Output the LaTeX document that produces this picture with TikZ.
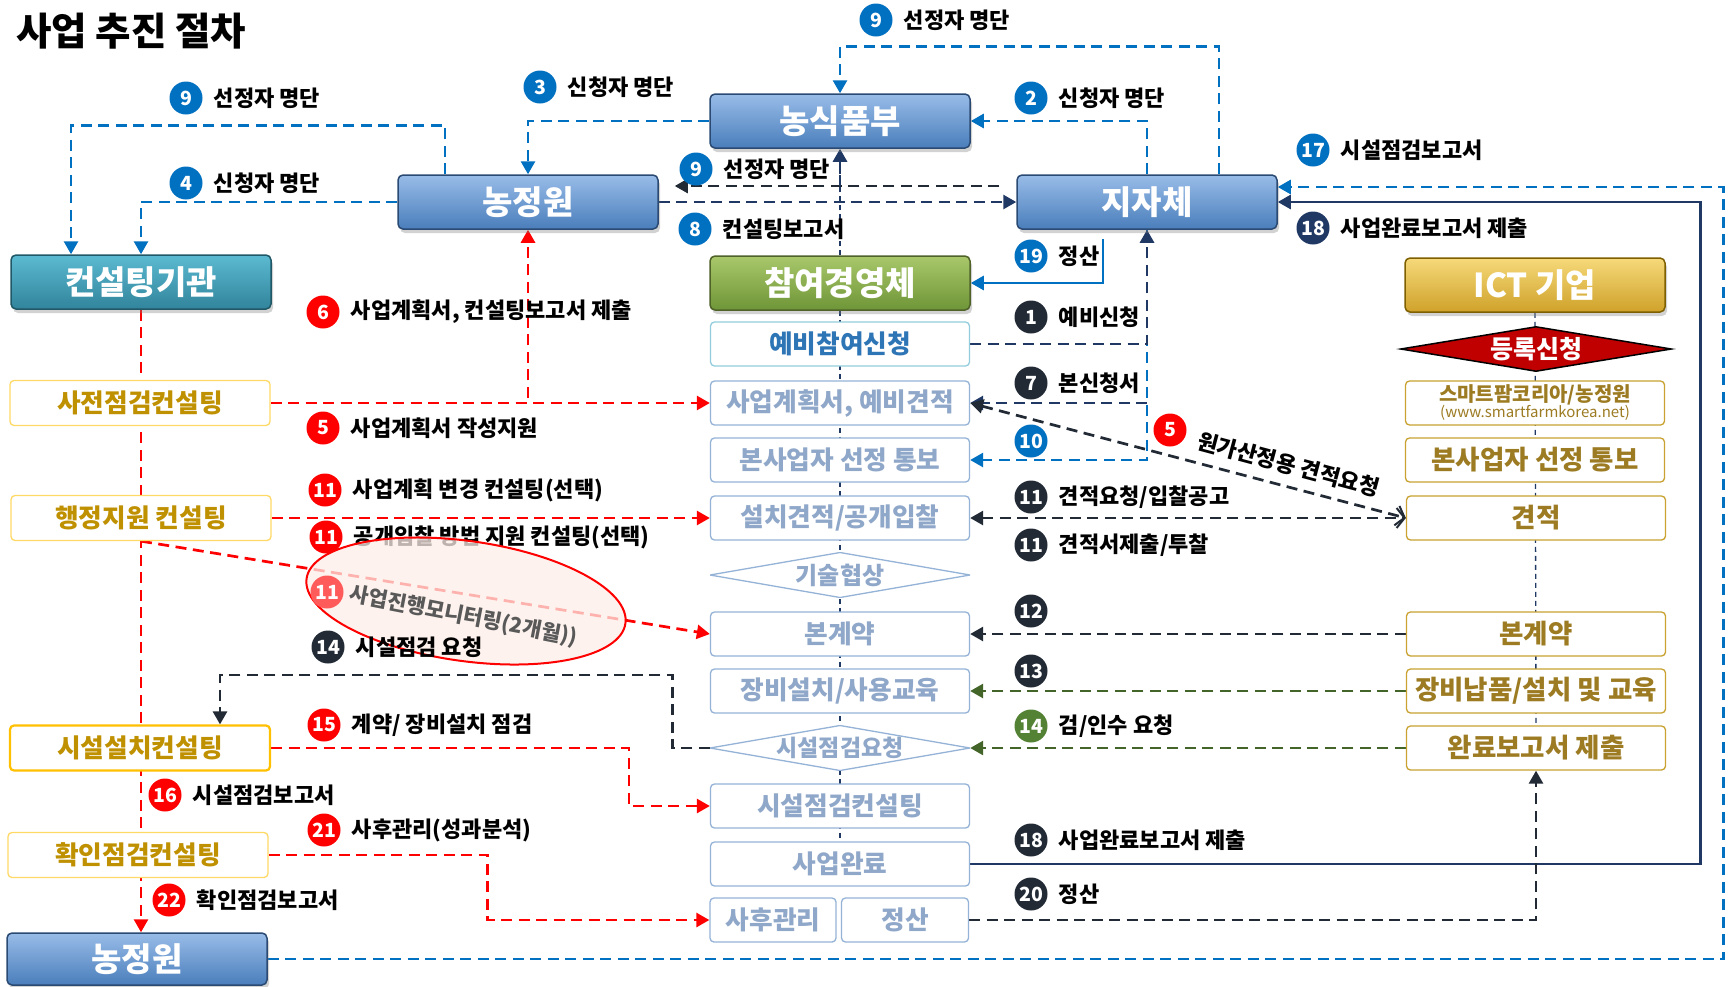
\documentclass[tikz,border=0pt]{standalone}
\usepackage{fontspec}
\setmainfont{Noto Sans CJK KR}
\usetikzlibrary{positioning,arrows.meta,shapes.geometric,shadows}

\definecolor{cblue}{HTML}{0070C0}
\definecolor{cnavy}{HTML}{222A35}
\definecolor{dnavy}{HTML}{1F3864}
\definecolor{cred}{HTML}{FF0000}
\definecolor{lred}{HTML}{FF5B5B}
\definecolor{dgreen}{HTML}{44652A}
\definecolor{cgreen}{HTML}{548235}
\definecolor{hbtop}{HTML}{98BCE8}
\definecolor{hbbot}{HTML}{4A7EBB}
\definecolor{hbline}{HTML}{2B4A73}
\definecolor{httop}{HTML}{5BBAD1}
\definecolor{htbot}{HTML}{31849B}
\definecolor{htline}{HTML}{205867}
\definecolor{hgtop}{HTML}{A9C86B}
\definecolor{hgbot}{HTML}{6E9537}
\definecolor{hgline}{HTML}{4F6228}
\definecolor{hytop}{HTML}{F6D97A}
\definecolor{hybot}{HTML}{CFA22A}
\definecolor{hyline}{HTML}{7F6000}
\definecolor{boxline}{HTML}{95B3D7}
\definecolor{boxtext}{HTML}{8FA7C9}
\definecolor{ybline}{HTML}{93CDDD}
\definecolor{ybtext}{HTML}{2E75B6}
\definecolor{goldline}{HTML}{FFD966}
\definecolor{goldbold}{HTML}{FFC000}
\definecolor{goldtext}{HTML}{BF9000}
\definecolor{ictline}{HTML}{C9A232}
\definecolor{icttext}{HTML}{9C7B22}
\definecolor{regred}{HTML}{C00000}
\definecolor{ellfill}{HTML}{FDEEE8}
\definecolor{monitext}{HTML}{595959}

\pgfdeclarelayer{back}
\pgfdeclarelayer{links}
\pgfsetlayers{back,links,main}

\tikzset{
  fs/.style={font=\fontsize{#1}{#1}\selectfont\bfseries},
  head/.style={rectangle, rounded corners=5pt, minimum width=260pt,
    minimum height=54pt, line width=1.5pt, text=white, fs=33,
    drop shadow={opacity=.35, shadow xshift=2pt, shadow yshift=-4pt}},
  headblue/.style={head, draw=hbline, top color=hbtop, bottom color=hbbot},
  headteal/.style={head, draw=htline, top color=httop, bottom color=htbot},
  headgreen/.style={head, draw=hgline, top color=hgtop, bottom color=hgbot},
  headgold/.style={head, draw=hyline, top color=hytop, bottom color=hybot},
  midbox/.style={rectangle, rounded corners=4pt, draw=boxline, line width=1.3pt,
    fill=white, minimum width=259pt, minimum height=44pt, text=boxtext, fs=25.7},
  middia/.style={rectangle, inner sep=0pt, minimum width=260pt, minimum height=45pt,
    text=boxtext, fs=24,
    path picture={\draw[draw=boxline, line width=1.3pt, fill=white]
      (path picture bounding box.west) -- (path picture bounding box.north)
      -- (path picture bounding box.east) -- (path picture bounding box.south) -- cycle;}},
  goldbox/.style={rectangle, rounded corners=4pt, draw=goldline, line width=1.3pt,
    fill=white, minimum width=260pt, minimum height=45pt, text=goldtext, fs=25.7},
  ictbox/.style={rectangle, rounded corners=4pt, draw=ictline, line width=1.3pt,
    fill=white, minimum width=259pt, minimum height=44pt, text=icttext, fs=26.5},
  regdia/.style={diamond, aspect=5.8, inner sep=0pt, draw=black, line width=1.5pt,
    fill=regred, minimum width=271pt, minimum height=45pt, text=white, fs=25},
  num/.style={circle, fill=#1, minimum size=33pt, inner sep=0pt, text=white, fs=19.5},
  lbl/.style={fs=22, inner sep=1pt},
  link/.style={line width=2.7pt, dash pattern=on 11pt off 6.5pt},
  bluedash/.style={link, draw=cblue},
  navydash/.style={link, draw=dnavy},
  blackdash/.style={link, draw=cnavy},
  greendash/.style={link, draw=dgreen},
  reddash/.style={link, draw=cred},
  blueline/.style={line width=2.7pt, draw=cblue},
  navyline/.style={line width=2.7pt, draw=dnavy},
  thinlink/.style={line width=1.3pt, draw=dnavy, dash pattern=on 5pt off 4pt},
  barb/.style={arrows={Triangle[length=13pt,width=14pt]-Straight Barb[length=8pt,width=20pt,line width=2pt]}}
}

\begin{document}
\begin{tikzpicture}[x=1pt, y=-1pt, >={Triangle[length=13pt,width=14pt]}]
\useasboundingbox (0,0) rectangle (1728,986);
\begin{pgfonlayer}{back}
  \fill[white] (0,0) rectangle (1728,986);
\end{pgfonlayer}

\node[fs=38.5, anchor=west, inner sep=0pt] (title) at (16,31) {사업 추진 절차};

% agencies
\node[headblue] (nsp) at (840,121) {농식품부};
\node[headblue] (ngw) at (528,202) {농정원};
\node[headblue] (jjc) at (1147,202) {지자체};
\node[headteal] (kst) at (141,282) {컨설팅기관};
\node[headgreen] (cyg) at (840,283) {참여경영체};
\node[headgold] (ict) at (1535,285) {ICT 기업};
\node[headblue, minimum height=52pt] (ngwb) at (137,959) {농정원};

% participant steps
\node[midbox, draw=ybline, text=ybtext] (ybi) at (840,344) {예비참여신청};
\node[midbox] (sgh) at (840,403) {사업계획서, 예비견적};
\node[midbox] (bsa) at (840,460) {본사업자 선정 통보};
\node[midbox] (sgj) at (840,518) {설치견적/공개입찰};
\node[middia] (gsh) at (840,575) {기술협상};
\node[midbox] (bgy) at (840,634) {본계약};
\node[midbox] (jbs) at (840,691) {장비설치/사용교육};
\node[middia, fs=23] (sjy) at (840,748) {시설점검요청};
\node[midbox] (sjc) at (840,806) {시설점검컨설팅};
\node[midbox] (syw) at (840,864) {사업완료};
\node[midbox, minimum width=126pt] (shg) at (773,920) {사후관리};
\node[midbox, minimum width=127pt] (js) at (905,920) {정산};

% consulting steps
\node[goldbox] (sjj) at (140,403) {사전점검컨설팅};
\node[goldbox] (hjj) at (141,518) {행정지원 컨설팅};
\node[goldbox, draw=goldbold, line width=2.2pt] (ssc) at (140,748) {시설설치컨설팅};
\node[goldbox] (hjc) at (138,855) {확인점검컨설팅};

% ICT steps
\node[regdia] (drg) at (1536,349) {등록신청};
\node[ictbox, align=center, inner sep=0pt, font=\fontsize{20}{16}\selectfont\bfseries] (smk) at (1535,403)
  {스마트팜코리아/농정원\\{\fontsize{15}{16}\selectfont\mdseries (www.smartfarmkorea.net)}};
\node[ictbox] (ibs) at (1535,460) {본사업자 선정 통보};
\node[ictbox] (ig) at (1536,518) {견적};
\node[ictbox] (ib) at (1536,634) {본계약};
\node[ictbox] (ij) at (1536,691) {장비납품/설치 및 교육};
\node[ictbox] (iw) at (1536,748) {완료보고서 제출};

\coordinate (j9) at ([yshift=16]jjc.west);

\begin{pgfonlayer}{links}
% column connectors
\draw[thinlink] (cyg.north) -- (nsp.south);
\draw[thinlink] (cyg.south) -- (syw.south);
\draw[thinlink] (ict.south) -- (iw.north);
% lists
\draw[bluedash,->] ([xshift=-83]ngw.north) -- ++(0,-49) -| ([xshift=-70]kst.north);
\draw[bluedash,->] (ngw.west) -| (kst.north);
\draw[bluedash,->] (nsp.west) -| (ngw.north);
\draw[bluedash,->] (jjc.north) |- (nsp.east);
\draw[bluedash,->] ([xshift=72]jjc.north) -- ++(0,-128) -| (nsp.north);
\draw[bluedash,->] (jjc.south) |- (bsa.east);
\draw[bluedash,->] (ngwb.east) -- ++(1456,0) |- ([yshift=15]jjc.east);
\draw[navydash,->] (ngw.east) -- (jjc.west);
\draw[blackdash,->, shorten <=17pt, shorten >=16pt] (j9) -- (j9 -| ngw.east);
\draw[navydash,->] (j9 -| nsp.south) -- (nsp.south);
\draw[navydash,->] (ybi.east) -| (jjc.south);
\draw[navydash,->] (sgh.east -| jjc.south) -- (sgh.east);
\draw[blueline,->] ([xshift=-44,yshift=-9]jjc.south) |- (cyg.east);
\draw[navyline,->] (syw.east) -- ++(730,0) |- (jjc.east);
% quotes and contracts
\draw[blackdash,barb] (sgh.east) -- (ig.west);
\draw[blackdash,barb] (sgj.east) -- (ig.west);
\draw[blackdash,->] (ib.west) -- (bgy.east);
\draw[greendash,->] (ij.west) -- (jbs.east);
\draw[greendash,->] (iw.west) -- (sjy.east);
\draw[blackdash,->] (sjy.west) -- ++(-37,0) -- ++(0,-73) -| ([xshift=80]ssc.north);
\draw[blackdash,->] (js.east) -| (iw.south);
% consulting
\draw[reddash,->] (sjj.east) -| (ngw.south);
\draw[reddash,->] (sjj.east) -- (sgh.west);
\draw[reddash,->] (hjj.east) -- (sgj.west);
\draw[reddash,->] (hjj.south) -- (bgy.west);
\draw[reddash,->] (ssc.east) -| ([xshift=-81]sjc.west) -- (sjc.west);
\draw[reddash,->] (hjc.east) -| ([xshift=-222]shg.west) -- (shg.west);
\draw[reddash,->] (kst.south) -- (kst.south |- ngwb.north);
\end{pgfonlayer}

% numbered labels
\node[num=cblue] (c9a) at (186,98) {9};
\node[lbl, right=10pt of c9a] (t9a) {선정자 명단};
\node[num=cblue] (c3) at (540,87) {3};
\node[lbl, right=10pt of c3] (t3) {신청자 명단};
\node[num=cblue] (c9b) at (876,20) {9};
\node[lbl, right=10pt of c9b] (t9b) {선정자 명단};
\node[num=cblue] (c2) at (1031,98) {2};
\node[lbl, right=10pt of c2] (t2) {신청자 명단};
\node[num=cblue] (c4) at (186,183) {4};
\node[lbl, right=10pt of c4] (t4) {신청자 명단};
\node[num=cblue] (c9c) at (696,169) {9};
\node[lbl, right=10pt of c9c] (t9c) {선정자 명단};
\node[num=cblue] (c8) at (695,229) {8};
\node[lbl, right=10pt of c8] (t8) {컨설팅보고서};
\node[num=cblue] (c17) at (1313,150) {17};
\node[lbl, right=10pt of c17] (t17) {시설점검보고서};
\node[num=dnavy] (c18a) at (1313,228) {18};
\node[lbl, right=10pt of c18a] (t18a) {사업완료보고서 제출};
\node[num=cblue] (c19) at (1031,256) {19};
\node[lbl, right=10pt of c19] (t19) {정산};
\node[num=cnavy] (c1) at (1031,317) {1};
\node[lbl, right=10pt of c1] (t1) {예비신청};
\node[num=cred] (c6) at (323,312) {6};
\node[lbl, right=10pt of c6] (t6) {사업계획서, 컨설팅보고서 제출};
\node[num=cnavy] (c7) at (1031,383) {7};
\node[lbl, right=10pt of c7] (t7) {본신청서};
\node[num=cred] (c5a) at (323,428) {5};
\node[lbl, right=10pt of c5a] (t5a) {사업계획서 작성지원};
\node[num=cblue] (c10) at (1031,441) {10};
\node[num=cred] (c5b) at (1170,430) {5};
\node[lbl, rotate=-15, anchor=west] (t5b) at (1197,440) {원가산정용 견적요청};
\node[num=cred] (c11a) at (325,490) {11};
\node[lbl, right=10pt of c11a] (t11a) {사업계획 변경 컨설팅(선택)};
\node[num=cnavy] (c11b) at (1031,497) {11};
\node[lbl, right=10pt of c11b] (t11b) {견적요청/입찰공고};
\node[num=cred] (c11c) at (326,537) {11};
\node[lbl, right=10pt of c11c] (t11c) {공개입찰 방법 지원 컨설팅(선택)};
\node[num=cnavy] (c11d) at (1031,545) {11};
\node[lbl, right=10pt of c11d] (t11d) {견적서제출/투찰};
\node[num=cnavy] (c12) at (1031,611) {12};
\node[num=cnavy] (c13) at (1031,671) {13};
\node[num=cgreen] (c14b) at (1031,726) {14};
\node[lbl, right=10pt of c14b] (t14b) {검/인수 요청};
\node[num=cred] (c15) at (324,725) {15};
\node[lbl, right=10pt of c15] (t15) {계약/ 장비설치 점검};
\node[num=cred] (c16) at (165,795) {16};
\node[lbl, right=10pt of c16] (t16) {시설점검보고서};
\node[num=cred] (c21) at (324,830) {21};
\node[lbl, right=10pt of c21] (t21) {사후관리(성과분석)};
\node[num=cnavy] (c18b) at (1031,840) {18};
\node[lbl, right=10pt of c18b] (t18b) {사업완료보고서 제출};
\node[num=cnavy] (c20) at (1031,894) {20};
\node[lbl, right=10pt of c20] (t20) {정산};
\node[num=cred] (c22) at (169,900) {22};
\node[lbl, right=10pt of c22] (t22) {확인점검보고서};

% monitoring ellipse
\draw[draw=cred, line width=2pt, fill=ellfill, fill opacity=.75, rotate around={-8:(466,601)}]
  (466,601) ellipse [x radius=161pt, y radius=60pt];
\node[num=lred] (c11e) at (327,592) {11};
\node[lbl, fs=21, rotate=-11, anchor=west, text=monitext] (t11e) at (349,594) {사업진행모니터링(2개월))};
\node[num=cnavy] (c14a) at (328,647) {14};
\node[lbl, right=10pt of c14a] (t14a) {시설점검 요청};
\end{tikzpicture}
\end{document}
